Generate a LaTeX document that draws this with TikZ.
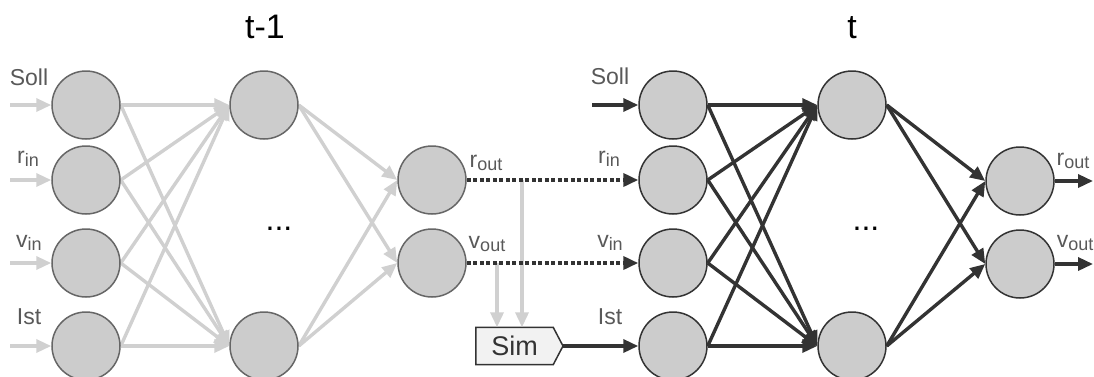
\documentclass[tikz,border=0pt]{standalone}
\usepackage{fontspec}
\setmainfont{Liberation Sans}
\usetikzlibrary{arrows.meta,backgrounds}

\definecolor{nodefill}{HTML}{CCCCCC}
\definecolor{lightedge}{HTML}{D0D0D0}
\definecolor{darkedge}{HTML}{333333}
\definecolor{labelgray}{HTML}{595959}
\definecolor{oldborder}{HTML}{666666}
\definecolor{simfill}{HTML}{F2F2F2}

% variable name with a lowered index
\newcommand{\withsub}[2]{#1\raisebox{-3pt}{\fontsize{18}{20}\selectfont #2}}

\begin{document}
\begin{tikzpicture}[x=1pt,y=-1pt,
  neuron/.style={circle, minimum size=68pt, inner sep=0pt, fill=nodefill, line width=1.5pt},
  oldneuron/.style={neuron, draw=oldborder},
  newneuron/.style={neuron, draw=darkedge},
  tipshape/.style={-{Triangle[length=15pt,width=13pt]}},
  oldlink/.style={draw=lightedge, line width=3.4pt, tipshape},
  newlink/.style={draw=darkedge, line width=3.4pt, tipshape},
  carry/.style={draw=darkedge, line width=3.6pt, dash pattern=on 4pt off 2.5pt, tipshape},
  tag/.style={text=labelgray, font=\fontsize{23}{27}\selectfont, anchor=base, inner sep=0pt},
  heading/.style={text=black, font=\fontsize{34}{40}\selectfont, anchor=base, inner sep=0pt},
  ellip/.style={text=black, font=\fontsize{32}{36}\selectfont, anchor=base, inner sep=0pt}
]
\useasboundingbox (0,0) rectangle (1094,376);

% time step headings
\node[heading] (head-old) at (265,38) {t-1};
\node[heading] (head-new) at (852,38) {t};

% network at t-1
\node[oldneuron] (li1) at (86,105) {};
\node[oldneuron] (li2) at (86,180) {};
\node[oldneuron] (li3) at (86,263) {};
\node[oldneuron] (li4) at (86,346) {};
\node[oldneuron] (lh1) at (264,105) {};
\node[oldneuron] (lh2) at (264,346) {};
\node[oldneuron] (lo1) at (432,180) {};
\node[oldneuron] (lo2) at (432,263) {};
\node[ellip] (ldots) at (279,230) {...};

% network at t
\node[newneuron] (ri1) at (673,105) {};
\node[newneuron] (ri2) at (673,180) {};
\node[newneuron] (ri3) at (673,263) {};
\node[newneuron] (ri4) at (673,346) {};
\node[newneuron] (rh1) at (852,105) {};
\node[newneuron] (rh2) at (852,346) {};
\node[newneuron] (ro1) at (1020,181) {};
\node[newneuron] (ro2) at (1020,264) {};
\node[ellip] (rdots) at (866,230) {...};

% simulator block
\node[inner sep=0pt, minimum width=77pt, minimum height=37pt,
      text=darkedge, font=\fontsize{27}{30}\selectfont] (sim) at (514.5,346) {Sim};
\coordinate (simtip) at (563,346);
\begin{scope}[on background layer]
  \draw[fill=simfill, draw=darkedge, line width=1.5pt, line join=miter]
    (sim.north west) -- (sim.north east) -- (simtip) -- (sim.south east) -- (sim.south west) -- cycle;
\end{scope}

% labels
\node[tag] (t-soll-a) at (29,85) {Soll};
\node[tag] (t-rin-a)  at (28,163) {\withsub{r}{in}};
\node[tag] (t-vin-a)  at (29,247) {\withsub{v}{in}};
\node[tag] (t-ist-a)  at (29,324) {Ist};
\node[tag] (t-rout-a) at (486,167) {\withsub{r}{out}};
\node[tag] (t-vout-a) at (487,248) {\withsub{v}{out}};
\node[tag] (t-soll-b) at (610,84) {Soll};
\node[tag] (t-rin-b)  at (609,163) {\withsub{r}{in}};
\node[tag] (t-vin-b)  at (610,247) {\withsub{v}{in}};
\node[tag] (t-ist-b)  at (610,324) {Ist};
\node[tag] (t-rout-b) at (1073,165) {\withsub{r}{out}};
\node[tag] (t-vout-b) at (1075,247) {\withsub{v}{out}};

% free ends of the outer connectors
\coordinate (in1) at (10,105);
\coordinate (in2) at (10,180);
\coordinate (in3) at (10,263);
\coordinate (in4) at (10,346);
\coordinate (sollin) at (592,105);
\coordinate (out1) at (1093,181);
\coordinate (out2) at (1093,264);
\coordinate (br1) at (522,180);
\coordinate (br2) at (497,263);

\begin{scope}[on background layer]
  % inputs and weights at t-1
  \foreach \i in {1,...,4} {
    \draw[oldlink] (in\i) -- (li\i.west);
    \foreach \h in {1,2} \draw[oldlink] (li\i.east) -- (lh\h.west);
  }
  \foreach \h in {1,2} \foreach \o in {1,2} \draw[oldlink] (lh\h.east) -- (lo\o.west);

  % outputs of t-1 feed the simulator
  \draw[oldlink] (br1) -- (br1 |- sim.north);
  \draw[oldlink] (br2) -- (br2 |- sim.north);

  % outputs of t-1 carried over as inputs at t
  \draw[carry] (lo1.east) -- (ri2.west);
  \draw[carry] (lo2.east) -- (ri3.west);

  % inputs and weights at t
  \draw[newlink] (sollin) -- (ri1.west);
  \draw[newlink] (simtip) -- (ri4.west);
  \foreach \i in {1,...,4} \foreach \h in {1,2} \draw[newlink] (ri\i.east) -- (rh\h.west);
  \foreach \h in {1,2} \foreach \o in {1,2} \draw[newlink] (rh\h.east) -- (ro\o.west);
  \draw[newlink] (ro1.east) -- (out1);
  \draw[newlink] (ro2.east) -- (out2);
\end{scope}
\end{tikzpicture}
\end{document}
